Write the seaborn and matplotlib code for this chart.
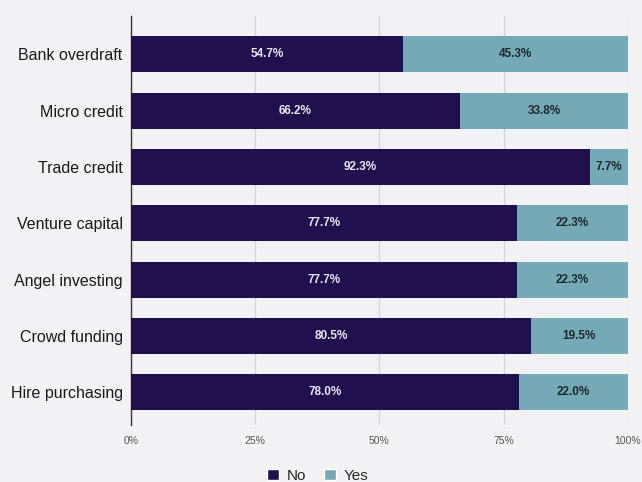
import matplotlib
matplotlib.use("Agg")
import matplotlib.pyplot as plt
import seaborn as sns
import pandas as pd
from matplotlib.patches import Patch

categories = ["Bank overdraft", "Micro credit", "Trade credit", "Venture capital",
              "Angel investing", "Crowd funding", "Hire purchasing"]
no_values = [54.7, 66.2, 92.3, 77.7, 77.7, 80.5, 78.0]
yes_values = [45.3, 33.8, 7.7, 22.3, 22.3, 19.5, 22.0]
tick_labels = ["0%", "25%", "50%", "75%", "100%"]

NAVY = "#20104e"
TEAL = "#75a9b5"
BG = "#f2f2f4"

sns.set_theme(style="white")
plt.rcParams["font.family"] = ["Liberation Sans", "DejaVu Sans"]

df = pd.DataFrame({"category": categories, "No": no_values, "Yes": yes_values})
df["Total"] = df["No"] + df["Yes"]

fig = plt.figure(figsize=(6.42, 4.82), dpi=100, facecolor=BG)
ax = fig.add_axes([0.204, 0.118, 0.774, 0.849])
ax.set_facecolor(BG)

# stacked bars: full length in teal, "No" share drawn over it
sns.barplot(data=df, y="category", x="Total", color=TEAL, width=0.64,
            orient="h", ax=ax, saturation=1, linewidth=0, zorder=2)
sns.barplot(data=df, y="category", x="No", color=NAVY, width=0.64,
            orient="h", ax=ax, saturation=1, linewidth=0, zorder=3)

for i, (n, y) in enumerate(zip(no_values, yes_values)):
    ax.text(n / 2, i, f"{n:.1f}%", ha="center", va="center", color="#e8e6f2",
            fontsize=8.5, fontweight="bold", zorder=4)
    ax.text(n + y / 2, i, f"{y:.1f}%", ha="center", va="center", color="#1c2a30",
            fontsize=8.5, fontweight="bold", zorder=4)

ax.set_xlim(0, 100)
ax.set_ylim(6.58, -0.68)
ax.set_xticks([0, 25, 50, 75, 100])
ax.set_xticklabels(tick_labels, fontsize=7.5, color="#555555")
ax.xaxis.grid(True, color="#d4d4d8", linewidth=0.9, zorder=0)
ax.set_axisbelow(True)
ax.set_xlabel("")
ax.set_ylabel("")
ax.tick_params(axis="y", labelsize=11.5, colors="#1a1a1a", length=0, pad=6)
ax.tick_params(axis="x", length=0, pad=8)
for s in ["top", "right", "bottom"]:
    ax.spines[s].set_visible(False)
ax.spines["left"].set_color("#333333")
ax.spines["left"].set_linewidth(1.0)

handles = [Patch(facecolor=NAVY, label="No"), Patch(facecolor=TEAL, label="Yes")]
fig.legend(handles=handles, loc="lower center", bbox_to_anchor=(0.495, -0.03),
           ncol=2, frameon=False, fontsize=11, handlelength=0.8, handleheight=0.8,
           columnspacing=1.2, handletextpad=0.5)

fig.savefig("out.png", dpi=100, facecolor=BG)
